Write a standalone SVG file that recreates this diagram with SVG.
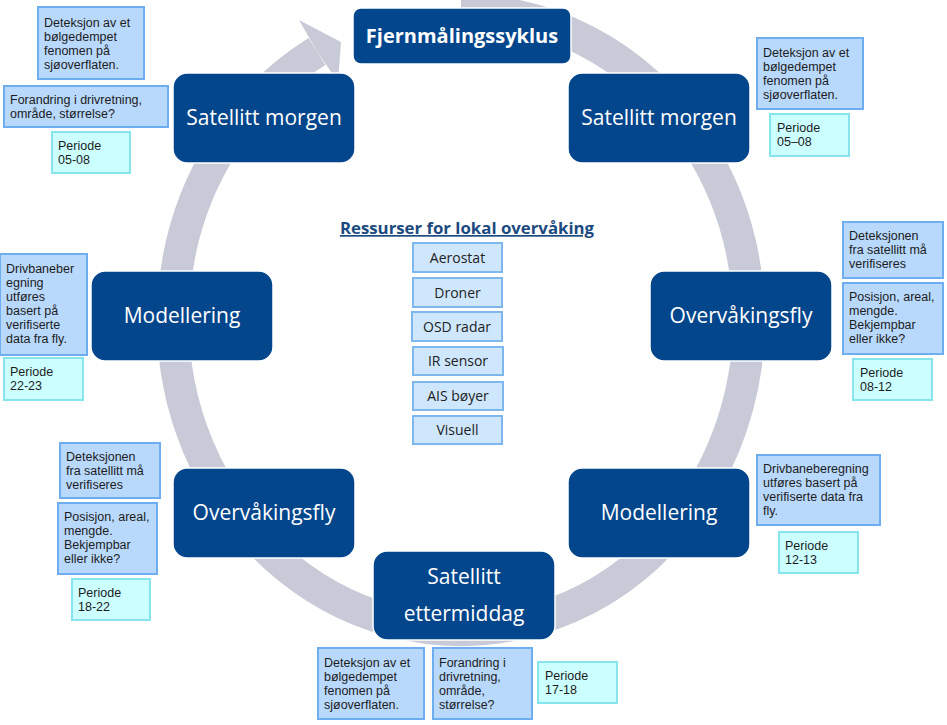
<svg xmlns="http://www.w3.org/2000/svg" width="947" height="725" viewBox="0 0 947 725">
<style>
.bg{fill:#ffffff}
.ring{fill:none;stroke:#C8CBD7;stroke-width:32}
.ringhead{fill:#C8CBD7}
.node rect{fill:#03468C;stroke:#ffffff;stroke-width:1.5}
.node text{fill:#ffffff;font-family:"Open Sans","Noto Sans",sans-serif;font-size:21px;text-anchor:middle}
.node text.title{font-weight:bold;font-size:20px}
.note rect{fill:#B9D9FC;stroke:#6EAEF0;stroke-width:2}
.period rect{fill:#CCFFFF;stroke:#86E4EE;stroke-width:2}
.note text,.period text{fill:#1c1c1c;font-family:"Liberation Sans",Arial,sans-serif;font-size:12.5px}
.res rect{fill:#CFE7FD;stroke:#7DB7EE;stroke-width:2}
.res text{fill:#222222;font-family:"Open Sans","Noto Sans",sans-serif;font-size:14px;text-anchor:middle}
.head{fill:#1B4A80;font-family:"Open Sans","Noto Sans",sans-serif;font-size:16.8px;font-weight:bold;text-anchor:middle;text-decoration:underline}
</style>
<rect class="bg" x="0" y="0" width="947" height="725"/>
<g id="connectors">
<path class="ring" d="M 461 10 A 288 310 0 1 1 317 51.5"/>
<polygon class="ringhead" points="299,20 341,42 338,82 317,51.5"/>
</g>
<g id="node-fjernmaling" class="node"><rect x="353" y="8" width="218" height="56" rx="8"/><text class="title" x="462" y="43">Fjernmålingssyklus</text></g>
<g id="node-satellitt-morgen-r" class="node"><rect x="568" y="73" width="182" height="90" rx="14"/><text x="659" y="125">Satellitt morgen</text></g>
<g id="node-overvakingsfly-r" class="node"><rect x="650" y="271" width="182" height="90" rx="14"/><text x="741" y="323">Overvåkingsfly</text></g>
<g id="node-modellering-r" class="node"><rect x="568" y="468" width="182" height="90" rx="14"/><text x="659" y="520">Modellering</text></g>
<g id="node-satellitt-ettermiddag" class="node"><rect x="373" y="551" width="182" height="89" rx="14"/><text x="464" y="584">Satellitt<tspan x="464" dy="37">ettermiddag</tspan></text></g>
<g id="node-overvakingsfly-l" class="node"><rect x="173" y="468" width="182" height="90" rx="14"/><text x="264" y="520">Overvåkingsfly</text></g>
<g id="node-modellering-l" class="node"><rect x="91" y="271" width="182" height="90" rx="14"/><text x="182" y="323">Modellering</text></g>
<g id="node-satellitt-morgen-l" class="node"><rect x="173" y="73" width="182" height="90" rx="14"/><text x="264" y="125">Satellitt morgen</text></g>

<g id="note-tl-1" class="note"><rect x="38" y="7" width="106" height="72"/><text x="44" y="26.5">Deteksjon av et<tspan x="44" dy="14">bølgedempet</tspan><tspan x="44" dy="14">fenomen på</tspan><tspan x="44" dy="14">sjøoverflaten.</tspan></text></g>
<g id="note-tl-2" class="note"><rect x="4" y="86" width="164" height="41"/><text x="10" y="104">Forandring i drivretning,<tspan x="10" dy="14">område, størrelse?</tspan></text></g>
<g id="period-tl" class="period"><rect x="52" y="132" width="78" height="41"/><text x="58" y="150">Periode<tspan x="58" dy="14">05-08</tspan></text></g>

<g id="note-tr-1" class="note"><rect x="757" y="38" width="106" height="71"/><text x="763" y="57">Deteksjon av et<tspan x="763" dy="14">bølgedempet</tspan><tspan x="763" dy="14">fenomen på</tspan><tspan x="763" dy="14">sjøoverflaten.</tspan></text></g>
<g id="period-tr" class="period"><rect x="770" y="114" width="79" height="42"/><text x="777" y="132">Periode<tspan x="777" dy="14">05–08</tspan></text></g>

<g id="note-r-1" class="note"><rect x="843" y="222" width="100" height="56"/><text x="849" y="240">Deteksjonen<tspan x="849" dy="14">fra satellitt må</tspan><tspan x="849" dy="14">verifiseres</tspan></text></g>
<g id="note-r-2" class="note"><rect x="843" y="283" width="100" height="71"/><text x="849" y="301">Posisjon, areal,<tspan x="849" dy="14">mengde.</tspan><tspan x="849" dy="14">Bekjempbar</tspan><tspan x="849" dy="14">eller ikke?</tspan></text></g>
<g id="period-r" class="period"><rect x="853" y="359" width="79" height="41"/><text x="860" y="377">Periode<tspan x="860" dy="14">08-12</tspan></text></g>

<g id="note-l-1" class="note"><rect x="0" y="254" width="87" height="101"/><text x="6" y="273">Drivbaneber<tspan x="6" dy="14">egning</tspan><tspan x="6" dy="14">utføres</tspan><tspan x="6" dy="14">basert på</tspan><tspan x="6" dy="14">verifiserte</tspan><tspan x="6" dy="14">data fra fly.</tspan></text></g>
<g id="period-l" class="period"><rect x="4" y="358" width="79" height="42"/><text x="10" y="376">Periode<tspan x="10" dy="14">22-23</tspan></text></g>

<g id="note-bl-1" class="note"><rect x="60" y="443" width="100" height="55"/><text x="66" y="461">Deteksjonen<tspan x="66" dy="14">fra satellitt må</tspan><tspan x="66" dy="14">verifiseres</tspan></text></g>
<g id="note-bl-2" class="note"><rect x="58" y="503" width="99" height="71"/><text x="64" y="521">Posisjon, areal,<tspan x="64" dy="14">mengde.</tspan><tspan x="64" dy="14">Bekjempbar</tspan><tspan x="64" dy="14">eller ikke?</tspan></text></g>
<g id="period-bl" class="period"><rect x="72" y="579" width="78" height="41"/><text x="78" y="597">Periode<tspan x="78" dy="14">18-22</tspan></text></g>

<g id="note-br-1" class="note"><rect x="757" y="455" width="123" height="70"/><text x="763" y="473">Drivbaneberegning<tspan x="763" dy="14">utføres basert på</tspan><tspan x="763" dy="14">verifiserte data fra</tspan><tspan x="763" dy="14">fly.</tspan></text></g>
<g id="period-br" class="period"><rect x="779" y="532" width="79" height="41"/><text x="785" y="550">Periode<tspan x="785" dy="14">12-13</tspan></text></g>

<g id="note-b-1" class="note"><rect x="318" y="648" width="106" height="71"/><text x="324" y="667">Deteksjon av et<tspan x="324" dy="14">bølgedempet</tspan><tspan x="324" dy="14">fenomen på</tspan><tspan x="324" dy="14">sjøoverflaten.</tspan></text></g>
<g id="note-b-2" class="note"><rect x="433" y="648" width="99" height="71"/><text x="439" y="667">Forandring i<tspan x="439" dy="14">drivretning,</tspan><tspan x="439" dy="14">område,</tspan><tspan x="439" dy="14">størrelse?</tspan></text></g>
<g id="period-b" class="period"><rect x="538" y="662" width="79" height="41"/><text x="545" y="680">Periode<tspan x="545" dy="14">17-18</tspan></text></g>

<g id="resources">
<text class="head" x="467" y="234">Ressurser for lokal overvåking</text>
<g id="res-aerostat" class="res"><rect x="413" y="243" width="89" height="29"/><text x="457.5" y="262.5">Aerostat</text></g>
<g id="res-droner" class="res"><rect x="413" y="278" width="89" height="29"/><text x="457.5" y="297.5">Droner</text></g>
<g id="res-osd" class="res"><rect x="412" y="312" width="90" height="29"/><text x="457" y="331.5">OSD radar</text></g>
<g id="res-ir" class="res"><rect x="413" y="347" width="90" height="28"/><text x="458" y="366">IR sensor</text></g>
<g id="res-ais" class="res"><rect x="413" y="382" width="90" height="28"/><text x="458" y="401">AIS bøyer</text></g>
<g id="res-visuell" class="res"><rect x="413" y="416" width="89" height="28"/><text x="457.5" y="435">Visuell</text></g>
</g>
</svg>
